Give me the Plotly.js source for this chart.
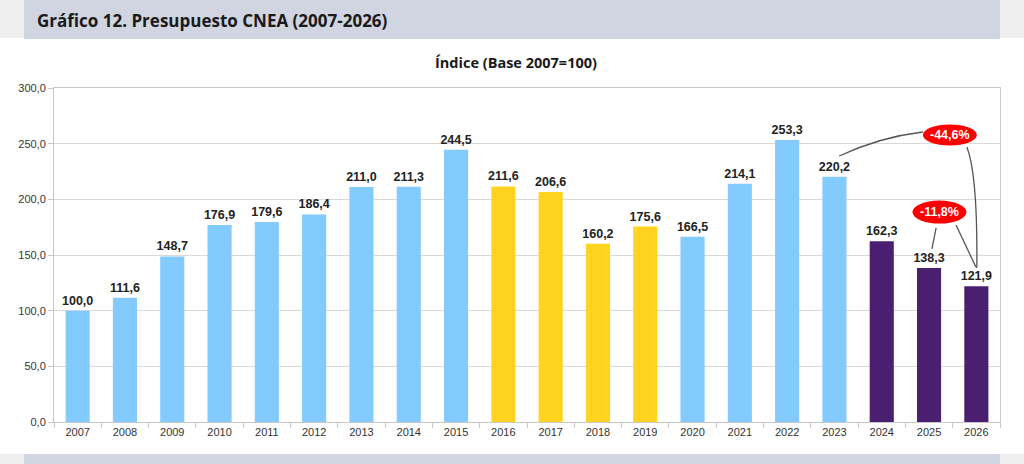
<!DOCTYPE html>
<html>
<head>
<meta charset="utf-8">
<script src="https://cdn.plot.ly/plotly-3.0.1.min.js"></script>
<style>
  html, body { margin: 0; padding: 0; background: #ffffff; }
  #chart { width: 1024px; height: 464px; }
</style>
</head>
<body>
<div id="chart"></div>
<script>
// Datos del gráfico
const anios = ['2007', '2008', '2009', '2010', '2011', '2012', '2013', '2014', '2015', '2016',
    '2017', '2018', '2019', '2020', '2021', '2022', '2023', '2024', '2025', '2026'];
const indice = [100.0, 111.6, 148.7, 176.9, 179.6, 186.4, 211.0, 211.3, 244.5, 211.6,
    206.6, 160.2, 175.6, 166.5, 214.1, 253.3, 220.2, 162.3, 138.3, 121.9];
const gestion = ['A', 'A', 'A', 'A', 'A', 'A', 'A', 'A', 'A', 'B',
    'B', 'B', 'B', 'A', 'A', 'A', 'A', 'C', 'C', 'C'];
const variaciones = ['-44,6%', '-11,8%'];

const colorGestion = { A: '#83caff', B: '#ffd320', C: '#4b1f6f' };

// Convert paper pixel positions to paper fractions (plot area 54..1000 x 88..422)
const px = (p) => (p - 54) / 946;
const py = (p) => (422 - p) / 334;

const trace = {
    type: 'bar',
    x: anios,
    y: indice,
    marker: { color: gestion.map(g => colorGestion[g]) },
    texttemplate: '<b>%{y:.1f}</b>',
    textposition: 'outside',
    constraintext: 'none',
    cliponaxis: false,
    textfont: { family: 'Liberation Sans, Arial, sans-serif', size: 12.5, color: '#222222' },
    hoverinfo: 'x+y'
};

const lineStyle = { color: '#555555', width: 1.3 };

const shapes = [
    // header band
    { type: 'rect', xref: 'paper', yref: 'paper', x0: px(0), x1: px(1024), y0: py(38), y1: py(0),
      fillcolor: '#efefef', line: { width: 0 }, layer: 'below' },
    { type: 'rect', xref: 'paper', yref: 'paper', x0: px(24), x1: px(1000), y0: py(39), y1: py(0),
      fillcolor: '#d0d5e1', line: { width: 0 }, layer: 'below' },
    // footer band
    { type: 'rect', xref: 'paper', yref: 'paper', x0: px(0), x1: px(1024), y0: py(464), y1: py(454),
      fillcolor: '#efefef', line: { width: 0 }, layer: 'below' },
    { type: 'rect', xref: 'paper', yref: 'paper', x0: px(24), x1: px(1000), y0: py(464), y1: py(454),
      fillcolor: '#d0d5e1', line: { width: 0 }, layer: 'below' },
    // connector lines (data coords: category index, index value)
    { type: 'path', xref: 'x', yref: 'y', path: 'M 16.10 238.9 Q 16.96 256.0 17.87 260.5', line: lineStyle },
    { type: 'path', xref: 'x', yref: 'y', path: 'M 18.80 247.0 Q 19.03 221.9 19.01 138.3', line: lineStyle },
    { type: 'path', xref: 'x', yref: 'y', path: 'M 18.15 174.3 L 18.06 155.4', line: lineStyle },
    { type: 'path', xref: 'x', yref: 'y', path: 'M 18.57 177.0 L 18.99 139.2', line: lineStyle },
    // red ellipses
    { type: 'circle', xref: 'x', yref: 'y', xsizemode: 'pixel', ysizemode: 'pixel',
      xanchor: 18.44, yanchor: 257.8, x0: -27, x1: 27, y0: -10.5, y1: 10.5,
      fillcolor: '#ff0000', line: { width: 0 } },
    { type: 'circle', xref: 'x', yref: 'y', xsizemode: 'pixel', ysizemode: 'pixel',
      xanchor: 18.22, yanchor: 188.6, x0: -27, x1: 27, y0: -11.5, y1: 11.5,
      fillcolor: '#ff0000', line: { width: 0 } }
];

const annotations = [
    { xref: 'paper', yref: 'paper', x: px(35), y: py(21), xanchor: 'left', yanchor: 'middle',
      text: '<b>Gráfico 12. Presupuesto CNEA (2007-2026)</b>', showarrow: false,
      font: { family: 'Open Sans, sans-serif', size: 17, color: '#1a1a1a' } },
    { xref: 'paper', yref: 'paper', x: px(516), y: py(63), xanchor: 'center', yanchor: 'middle',
      text: '<b>Índice (Base 2007=100)</b>', showarrow: false,
      font: { family: 'Open Sans, sans-serif', size: 14.5, color: '#1a1a1a' } },
    { xref: 'x', yref: 'y', x: 18.44, y: 257.8, text: '<b>' + variaciones[0] + '</b>', showarrow: false,
      font: { family: 'Liberation Sans, Arial, sans-serif', size: 12.5, color: '#ffffff' } },
    { xref: 'x', yref: 'y', x: 18.22, y: 188.6, text: '<b>' + variaciones[1] + '</b>', showarrow: false,
      font: { family: 'Liberation Sans, Arial, sans-serif', size: 12.5, color: '#ffffff' } }
];

const layout = {
    width: 1024,
    height: 464,
    margin: { l: 54, r: 24, t: 88, b: 42, pad: 0 },
    paper_bgcolor: '#ffffff',
    plot_bgcolor: '#ffffff',
    separators: ',.',
    showlegend: false,
    bargap: 0.49,
    font: { family: 'Liberation Sans, Arial, sans-serif', size: 11, color: '#333333' },
    xaxis: {
        type: 'category',
        showline: true,
        linecolor: '#c8c8c8',
        mirror: true,
        ticks: 'outside',
        tickson: 'boundaries',
        ticklen: 5,
        tickcolor: '#c8c8c8',
        showgrid: false,
        tickfont: { size: 11, color: '#333333' },
        fixedrange: true
    },
    yaxis: {
        range: [0, 300],
        dtick: 50,
        tickformat: '.1f',
        showline: true,
        linecolor: '#c8c8c8',
        mirror: true,
        ticks: 'outside',
        ticklen: 5,
        tickcolor: '#c8c8c8',
        gridcolor: '#d9d9d9',
        zeroline: false,
        tickfont: { size: 11, color: '#333333' },
        fixedrange: true
    },
    shapes: shapes,
    annotations: annotations
};

Plotly.newPlot('chart', [trace], layout, { displayModeBar: false, staticPlot: true });
</script>
</body>
</html>
